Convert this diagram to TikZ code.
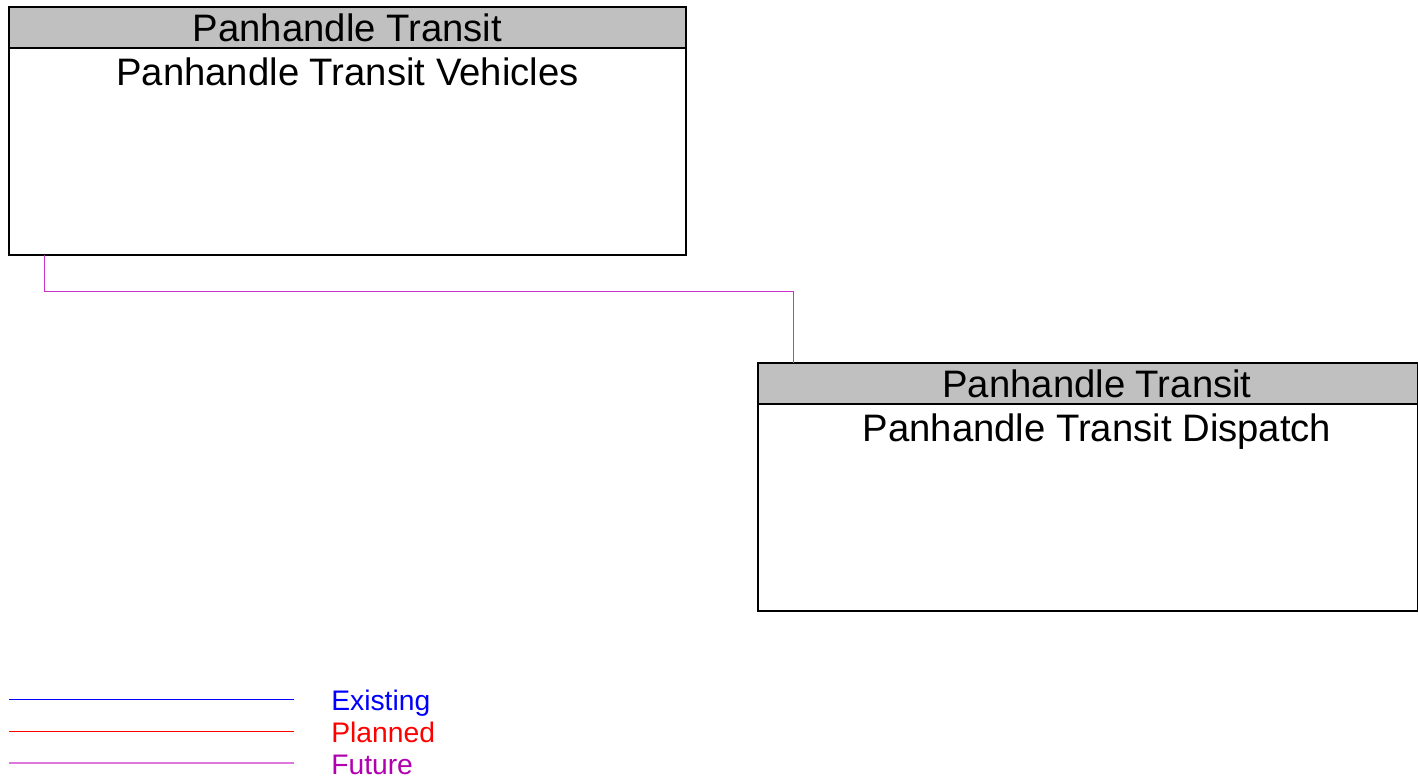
\documentclass[tikz,border=0pt]{standalone}
\usepackage{fontspec}
\setmainfont{Liberation Sans}
\definecolor{hdrgray}{RGB}{192,192,192}
\definecolor{futurecol}{RGB}{204,51,204}
\definecolor{futurelegend}{RGB}{221,119,221}
\definecolor{futuretext}{RGB}{176,0,176}
\begin{document}
\begin{tikzpicture}[x=0.75pt,y=-0.75pt,
  boxframe/.style={draw=black,line width=0.8pt},
  hdrfill/.style={fill=hdrgray,draw=black,line width=0.8pt},
  titletext/.style={font=\fontsize{28.7}{32}\selectfont,inner sep=0pt,anchor=base},
  legtext/.style={font=\fontsize{21.2}{24}\selectfont,inner sep=0pt,anchor=base west},
  conn/.style={draw=futurecol,line width=0.75pt}]
\useasboundingbox (0,0) rectangle (1418,778);
% box 1
\draw[boxframe,fill=white] (9,7) rectangle (686,255);
\draw[hdrfill] (9,7) rectangle (686,48);
\node[titletext] (h1) at (347.5,41) {Panhandle Transit};
\node[titletext] (b1) at (347.5,85) {Panhandle Transit Vehicles};
\coordinate (box1) at (44,255);
% box 2
\draw[boxframe,fill=white] (758,363) rectangle (1417.5,611);
\draw[hdrfill] (758,363) rectangle (1417.5,404);
\node[titletext] (h2) at (1097,397) {Panhandle Transit};
\node[titletext] (b2) at (1097,441) {Panhandle Transit Dispatch};
\coordinate (box2) at (793,363);
% connector
\draw[conn] (box1) |- (793,291) -- (box2);
% legend
\coordinate (l1a) at (9,699); \coordinate (l1b) at (294,699);
\coordinate (l2a) at (9,731); \coordinate (l2b) at (294,731);
\coordinate (l3a) at (9,763); \coordinate (l3b) at (294,763);
\draw[blue,line width=0.75pt] (l1a) -- (l1b);
\draw[red,line width=0.75pt] (l2a) -- (l2b);
\draw[futurelegend,line width=0.9pt] (l3a) -- (l3b);
\node[legtext,text=blue] (e) at (331,710) {Existing};
\node[legtext,text=red] (p) at (331,742) {Planned};
\node[legtext,text=futuretext] (f) at (331,774) {Future};
\end{tikzpicture}
\end{document}
